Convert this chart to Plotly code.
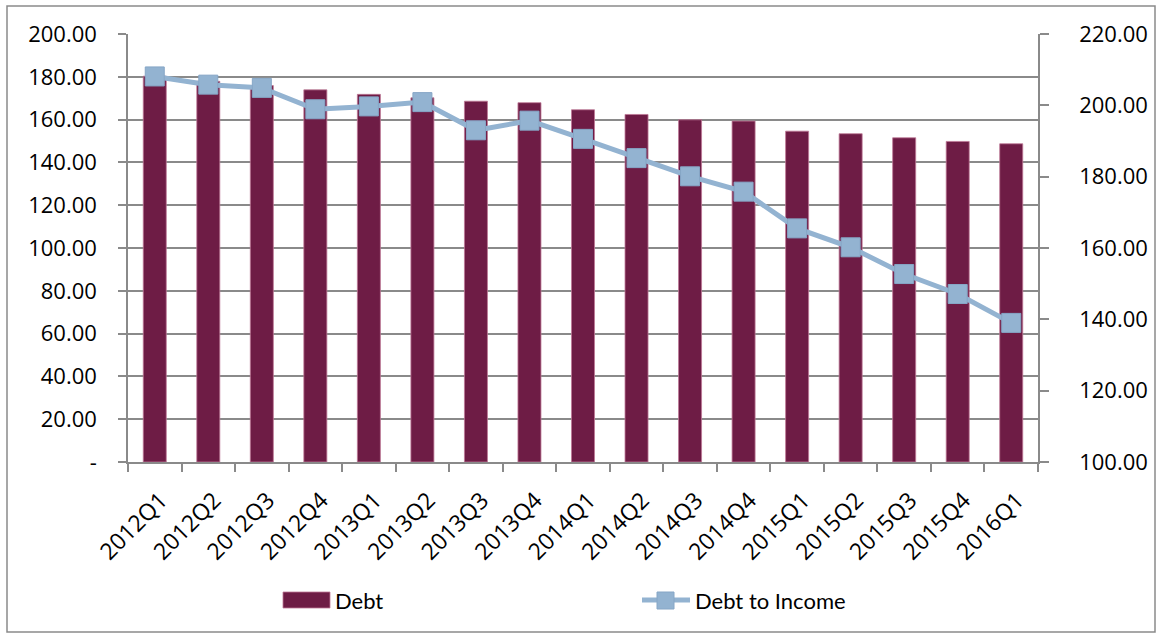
import plotly.graph_objects as go

# Quarterly debt and debt-to-income ratio
quarters = ["2012Q1", "2012Q2", "2012Q3", "2012Q4",
            "2013Q1", "2013Q2", "2013Q3", "2013Q4",
            "2014Q1", "2014Q2", "2014Q3", "2014Q4",
            "2015Q1", "2015Q2", "2015Q3", "2015Q4", "2016Q1"]
debt = [180.3, 177.9, 175.9, 173.9,
        171.8, 170.2, 168.6, 167.9,
        164.6, 162.4, 159.9, 159.3,
        154.6, 153.4, 151.5, 149.8, 148.7]
debt_to_income = [208.1, 205.8, 204.9, 198.9,
                  199.7, 200.9, 193.0, 195.7,
                  190.6, 185.2, 180.1, 175.8,
                  165.5, 160.2, 152.7, 147.1, 139.0]

left_ticks = [0, 20, 40, 60, 80, 100, 120, 140, 160, 180, 200]
left_ticktext = ["-"] + [f"{v:.2f}" for v in left_ticks[1:]]
right_ticks = [100, 120, 140, 160, 180, 200, 220]
right_ticktext = [f"{v:.2f}" for v in right_ticks]

BAR_COLOR = "#6E1C45"
LINE_COLOR = "#93B3D1"
AXIS_COLOR = "#8A8A8A"
TICK_FONT = "Open Sans"
LEGEND_FONT = "Lato"

W, H = 1161, 635
ML, MR, MT, MB = 128, 123, 34, 173
PW, PH = W - ML - MR, H - MT - MB


def px(x):
    return (x - ML) / PW


def py(y):
    return 1 - (y - MT) / PH


fig = go.Figure()

fig.add_trace(go.Bar(
    x=quarters, y=debt, name="Debt",
    marker=dict(color=BAR_COLOR, line=dict(color="rgba(190,120,150,0.8)", width=1)),
    width=0.43, showlegend=False, yaxis="y",
))

fig.add_trace(go.Scatter(
    x=quarters, y=debt_to_income, name="Debt to Income",
    mode="lines+markers",
    line=dict(color=LINE_COLOR, width=5),
    marker=dict(symbol="square", size=19, color=LINE_COLOR,
                line=dict(color="#86A6C6", width=1)),
    showlegend=False, yaxis="y2",
))

shapes = [
    # chart border
    dict(type="rect", xref="paper", yref="paper",
         x0=px(7), x1=px(1155), y0=py(632), y1=py(6),
         line=dict(color=AXIS_COLOR, width=1.5), fillcolor="rgba(0,0,0,0)", layer="below"),
    # legend swatch: Debt
    dict(type="rect", xref="paper", yref="paper",
         x0=px(283), x1=px(330), y0=py(608), y1=py(592),
         line=dict(color="rgba(190,120,150,0.8)", width=1), fillcolor=BAR_COLOR),
    # legend swatch: Debt to Income
    dict(type="line", xref="paper", yref="paper",
         x0=px(642), x1=px(690), y0=py(600), y1=py(600),
         line=dict(color=LINE_COLOR, width=5)),
    dict(type="rect", xref="paper", yref="paper",
         x0=px(657), x1=px(674), y0=py(609), y1=py(592),
         line=dict(color="#86A6C6", width=1), fillcolor=LINE_COLOR),
]

annotations = [
    dict(text="Debt", xref="paper", yref="paper", x=px(333), y=py(600),
         xanchor="left", yanchor="middle", showarrow=False,
         font=dict(family=LEGEND_FONT, size=22, color="#000")),
    dict(text="Debt to Income", xref="paper", yref="paper", x=px(693), y=py(600),
         xanchor="left", yanchor="middle", showarrow=False,
         font=dict(family=LEGEND_FONT, size=22, color="#000")),
]

fig.update_layout(
    width=W, height=H,
    margin=dict(l=ML, r=MR, t=MT, b=MB),
    paper_bgcolor="white", plot_bgcolor="white",
    font=dict(family=TICK_FONT, size=22, color="#000"),
    xaxis=dict(
        type="category", range=[-0.5, len(quarters) - 0.5],
        tickangle=-45, tickson="boundaries",
        ticks="outside", ticklen=8, tickcolor=AXIS_COLOR, tickwidth=1.5,
        showline=True, linecolor=AXIS_COLOR, linewidth=1.5,
        showgrid=False, ticklabelstandoff=14, ticklabelshift=6,
        tickfont=dict(family=TICK_FONT, size=23),
    ),
    yaxis=dict(
        range=[0, 200], tickvals=left_ticks, ticktext=left_ticktext,
        ticks="outside", ticklen=8, tickcolor=AXIS_COLOR, tickwidth=1.5,
        showline=True, linecolor=AXIS_COLOR, linewidth=1.5,
        showgrid=True, gridcolor=AXIS_COLOR, gridwidth=1.5,
        zeroline=False, ticklabelstandoff=17, tickfont=dict(family=TICK_FONT, size=22),
    ),
    yaxis2=dict(
        range=[100, 220], tickvals=right_ticks, ticktext=right_ticktext,
        overlaying="y", side="right",
        ticks="outside", ticklen=9, tickcolor=AXIS_COLOR, tickwidth=1.5,
        showline=True, linecolor=AXIS_COLOR, linewidth=1.5,
        showgrid=False, zeroline=False, ticklabelstandoff=26,
        tickfont=dict(family=TICK_FONT, size=22),
    ),
    shapes=shapes,
    annotations=annotations,
    showlegend=False,
)

fig.write_html("out.html")
